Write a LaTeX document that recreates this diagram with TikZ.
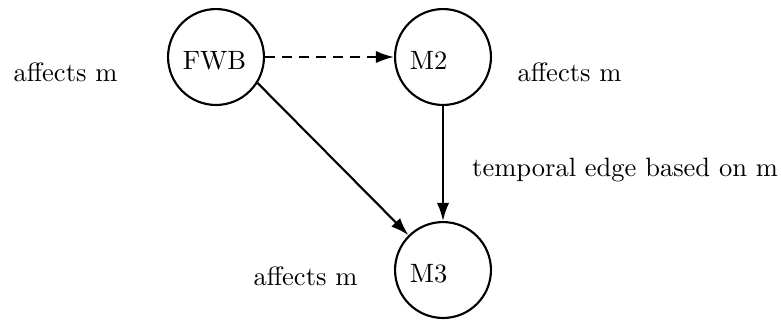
\documentclass[tikz,border=0pt]{standalone}
\usepackage{tikz}
\usetikzlibrary{shapes, arrows.meta}
\tikzstyle{state} = [draw, circle, line width=0.8pt, minimum size=36.2pt, inner sep=0pt, text width=25pt, align=left, text height=9.5pt, text depth=0pt]
\tikzstyle{note} = [anchor=base west, inner sep=0pt]
\tikzstyle{connector} = [draw, line width=0.8pt, -{Latex[length=6.8pt, width=4.6pt]}]
\tikzstyle{connector text} = [anchor=west, xshift=7.3pt, text=black]

\begin{document}
\begin{tikzpicture}[x=0.3774pt, y=-0.3774pt]
	\useasboundingbox (0,0) rectangle (781,320);

	\node [state] at (216, 57) (fwb) {FWB};
	\node [state] at (443, 57) (mtwo) {M2};
	\node [state] at (443, 270) (mthree) {M3};

	\node [note] at (13, 81) (affect fwb) {affects m};
	\node [note] at (517, 81) (affect mtwo) {affects m};
	\node [note] at (253, 285) (affect mthree) {affects m};

	\path [connector, dash pattern=on 3.8pt off 2.6pt] (fwb) -- (mtwo);
	\path [connector] (fwb.-32) -- (mthree);
	\path [connector] (mtwo) -- node[connector text, pos=0.56] {temporal edge based on m} (mthree);
\end{tikzpicture}
\end{document}
